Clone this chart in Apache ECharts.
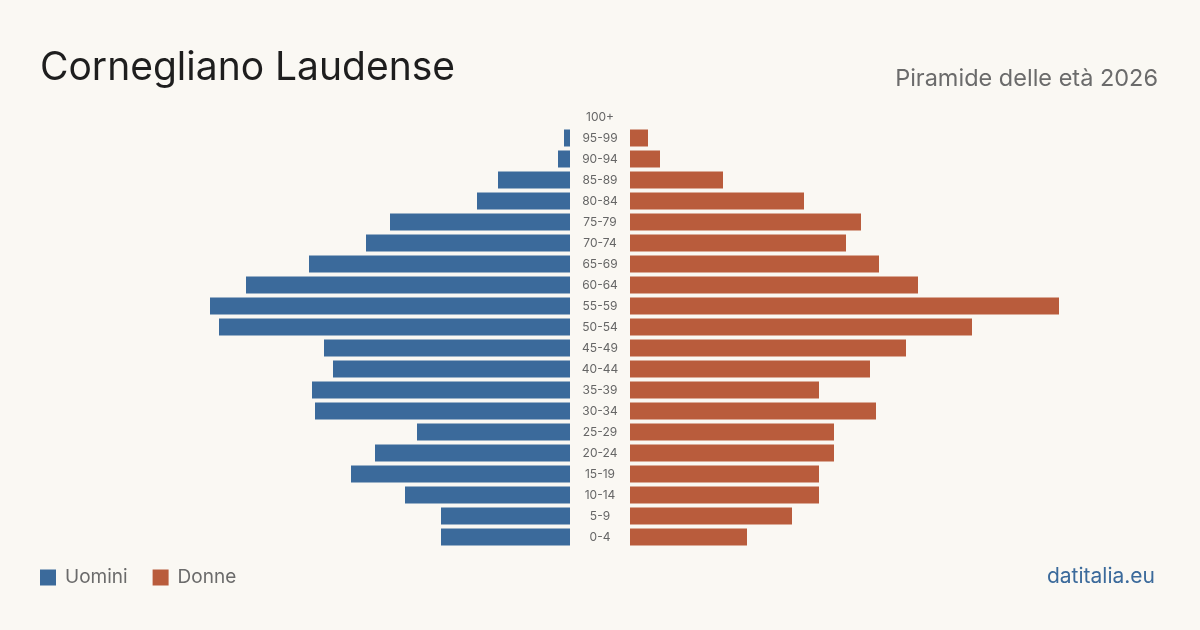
<!DOCTYPE html>
<html>
<head>
<meta charset="utf-8">
<script src="https://cdn.jsdelivr.net/npm/echarts@6/dist/echarts.min.js"></script>
<style>
  html, body { margin: 0; padding: 0; background: #faf8f3; }
  #chart { width: 1200px; height: 630px; }
</style>
</head>
<body>
<div id="chart"></div>
<script>
// fasce d'età, dal basso verso l'alto
const ages = ['0-4', '5-9', '10-14', '15-19', '20-24', '25-29', '30-34', '35-39', '40-44', '45-49',
  '50-54', '55-59', '60-64', '65-69', '70-74', '75-79', '80-84', '85-89', '90-94', '95-99', '100+']
const men = [43, 43, 55, 73, 65, 51, 85, 86, 79, 82, 117, 120, 108, 87, 68, 60, 31, 24, 4, 2, 0]
const women = [39, 54, 63, 63, 68, 68, 82, 63, 80, 92, 114, 143, 96, 83, 72, 77, 58, 31, 10, 6, 0]

const BLUE = '#3b6a9b'
const ORANGE = '#b95c3c'
const FONT = 'Inter, "Noto Sans", sans-serif'

const chart = echarts.init(document.getElementById('chart'))
chart.setOption({
  backgroundColor: '#faf8f3',
  animation: false,
  textStyle: { fontFamily: FONT },
  title: [
    {
      text: 'Cornegliano Laudense',
      left: 35, top: 44,
      textStyle: { fontSize: 39, fontWeight: 'normal', color: '#1e1e1e', fontFamily: FONT }
    },
    {
      text: 'Piramide delle età 2026',
      right: 37, top: 62,
      textStyle: { fontSize: 23.5, fontWeight: 'normal', color: '#6b6b6b', fontFamily: FONT }
    },
    {
      text: 'datitalia.eu',
      right: 40, top: 561,
      textStyle: { fontSize: 21, fontWeight: 'normal', color: BLUE, fontFamily: FONT }
    }
  ],
  legend: {
    left: 35, top: 563,
    icon: 'rect',
    itemWidth: 16, itemHeight: 16,
    itemGap: 25,
    textStyle: { fontSize: 19, color: '#6b6b6b', fontFamily: FONT, padding: [0, 0, 0, 4] },
    data: ['Uomini', 'Donne']
  },
  grid: [
    { left: 30, width: 540, top: 106.5, height: 441 },
    { left: 630, width: 540, top: 106.5, height: 441 }
  ],
  xAxis: [
    { gridIndex: 0, type: 'value', min: 0, max: 180, inverse: true, show: false },
    { gridIndex: 1, type: 'value', min: 0, max: 180, show: false }
  ],
  yAxis: [
    {
      gridIndex: 0, type: 'category', data: ages, position: 'right',
      axisLine: { show: false }, axisTick: { show: false },
      axisLabel: { margin: 30, align: 'center', fontSize: 12, color: '#666', fontFamily: FONT }
    },
    {
      gridIndex: 1, type: 'category', data: ages, show: false
    }
  ],
  series: [
    {
      name: 'Uomini', type: 'bar', xAxisIndex: 0, yAxisIndex: 0,
      data: men, barWidth: 17, itemStyle: { color: BLUE }
    },
    {
      name: 'Donne', type: 'bar', xAxisIndex: 1, yAxisIndex: 1,
      data: women, barWidth: 17, itemStyle: { color: ORANGE }
    }
  ]
})
</script>
</body>
</html>
